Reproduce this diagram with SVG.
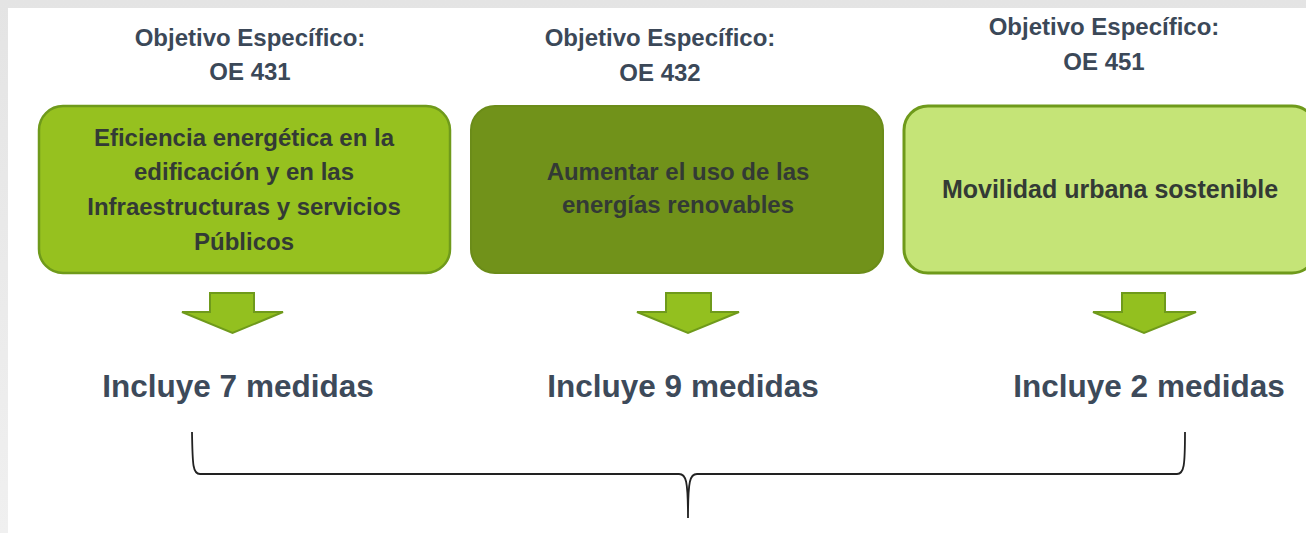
<svg xmlns="http://www.w3.org/2000/svg" width="1306" height="533" viewBox="0 0 1306 533">
  <defs>
    <style>
      .title { font-family: "Liberation Sans", Arial, sans-serif; font-weight: bold; font-size: 24px; fill: #3b4858; text-anchor: middle; }
      .box-text { font-family: "Liberation Sans", Arial, sans-serif; font-weight: bold; font-size: 24px; fill: #333a35; text-anchor: middle; }
      .count { font-family: "Liberation Sans", Arial, sans-serif; font-weight: bold; font-size: 31.5px; fill: #3d4a5a; text-anchor: middle; }
      .arrow { fill: #93c01f; stroke: #6f9a1b; stroke-width: 2; stroke-linejoin: miter; }
      .brace { fill: none; stroke: #222; stroke-width: 1.8; }
    </style>
    <linearGradient id="bgshade" x1="0" y1="0" x2="0" y2="1">
      <stop offset="0" stop-color="#e4e4e4"/>
      <stop offset="1" stop-color="#f0f0f0"/>
    </linearGradient>
  </defs>

  <rect x="0" y="0" width="1306" height="533" fill="url(#bgshade)"/>
  <rect x="8" y="8" width="1298" height="525" fill="#ffffff"/>

  <g id="node-oe431">
    <text class="title" x="250" y="46">Objetivo Específico:</text>
    <text class="title" x="250" y="80">OE 431</text>
    <rect x="39" y="106" width="411" height="167" rx="24" fill="#96c11f" stroke="#6f9a1b" stroke-width="2.5"/>
    <text class="box-text" x="244" y="146">Eficiencia energética en la</text>
    <text class="box-text" x="244" y="180">edificación y en las</text>
    <text class="box-text" x="244" y="215">Infraestructuras y servicios</text>
    <text class="box-text" x="244" y="250">Públicos</text>
  </g>

  <g id="node-oe432">
    <text class="title" x="660" y="46">Objetivo Específico:</text>
    <text class="title" x="660" y="81">OE 432</text>
    <rect x="471" y="106" width="412" height="167" rx="24" fill="#71921a" stroke="#6b8c19" stroke-width="2"/>
    <text class="box-text" x="678" y="180">Aumentar el uso de las</text>
    <text class="box-text" x="678" y="213">energías renovables</text>
  </g>

  <g id="node-oe451">
    <text class="title" x="1104" y="35">Objetivo Específico:</text>
    <text class="title" x="1104" y="70">OE 451</text>
    <rect x="904" y="106" width="412" height="167" rx="24" fill="#c5e477" stroke="#6f9a1b" stroke-width="3"/>
    <text class="box-text" x="1110" y="198" style="font-size:25px">Movilidad urbana sostenible</text>
  </g>

  <g id="node-m7">
    <text class="count" x="238" y="397">Incluye 7 medidas</text>
  </g>
  <g id="node-m9">
    <text class="count" x="683" y="397">Incluye 9 medidas</text>
  </g>
  <g id="node-m2">
    <text class="count" x="1149" y="397">Incluye 2 medidas</text>
  </g>

  <g id="connectors">
    <polygon class="arrow" points="210,293 254,293 254,312 283,312 232.5,333 182,312 210,312"/>
    <polygon class="arrow" points="666,293 711,293 711,312 739,312 688,333 637,312 666,312"/>
    <polygon class="arrow" points="1122,293 1165,293 1165,312 1196,312 1144,333 1093,312 1122,312"/>
    <path class="brace" d="M192,432 C192.5,466 193,474 200,474 L679,474 C686,474 688,480 688,518 C688,480 690,474 697,474 L1177,474 C1184,474 1185,466 1185,432"/>
  </g>
</svg>
